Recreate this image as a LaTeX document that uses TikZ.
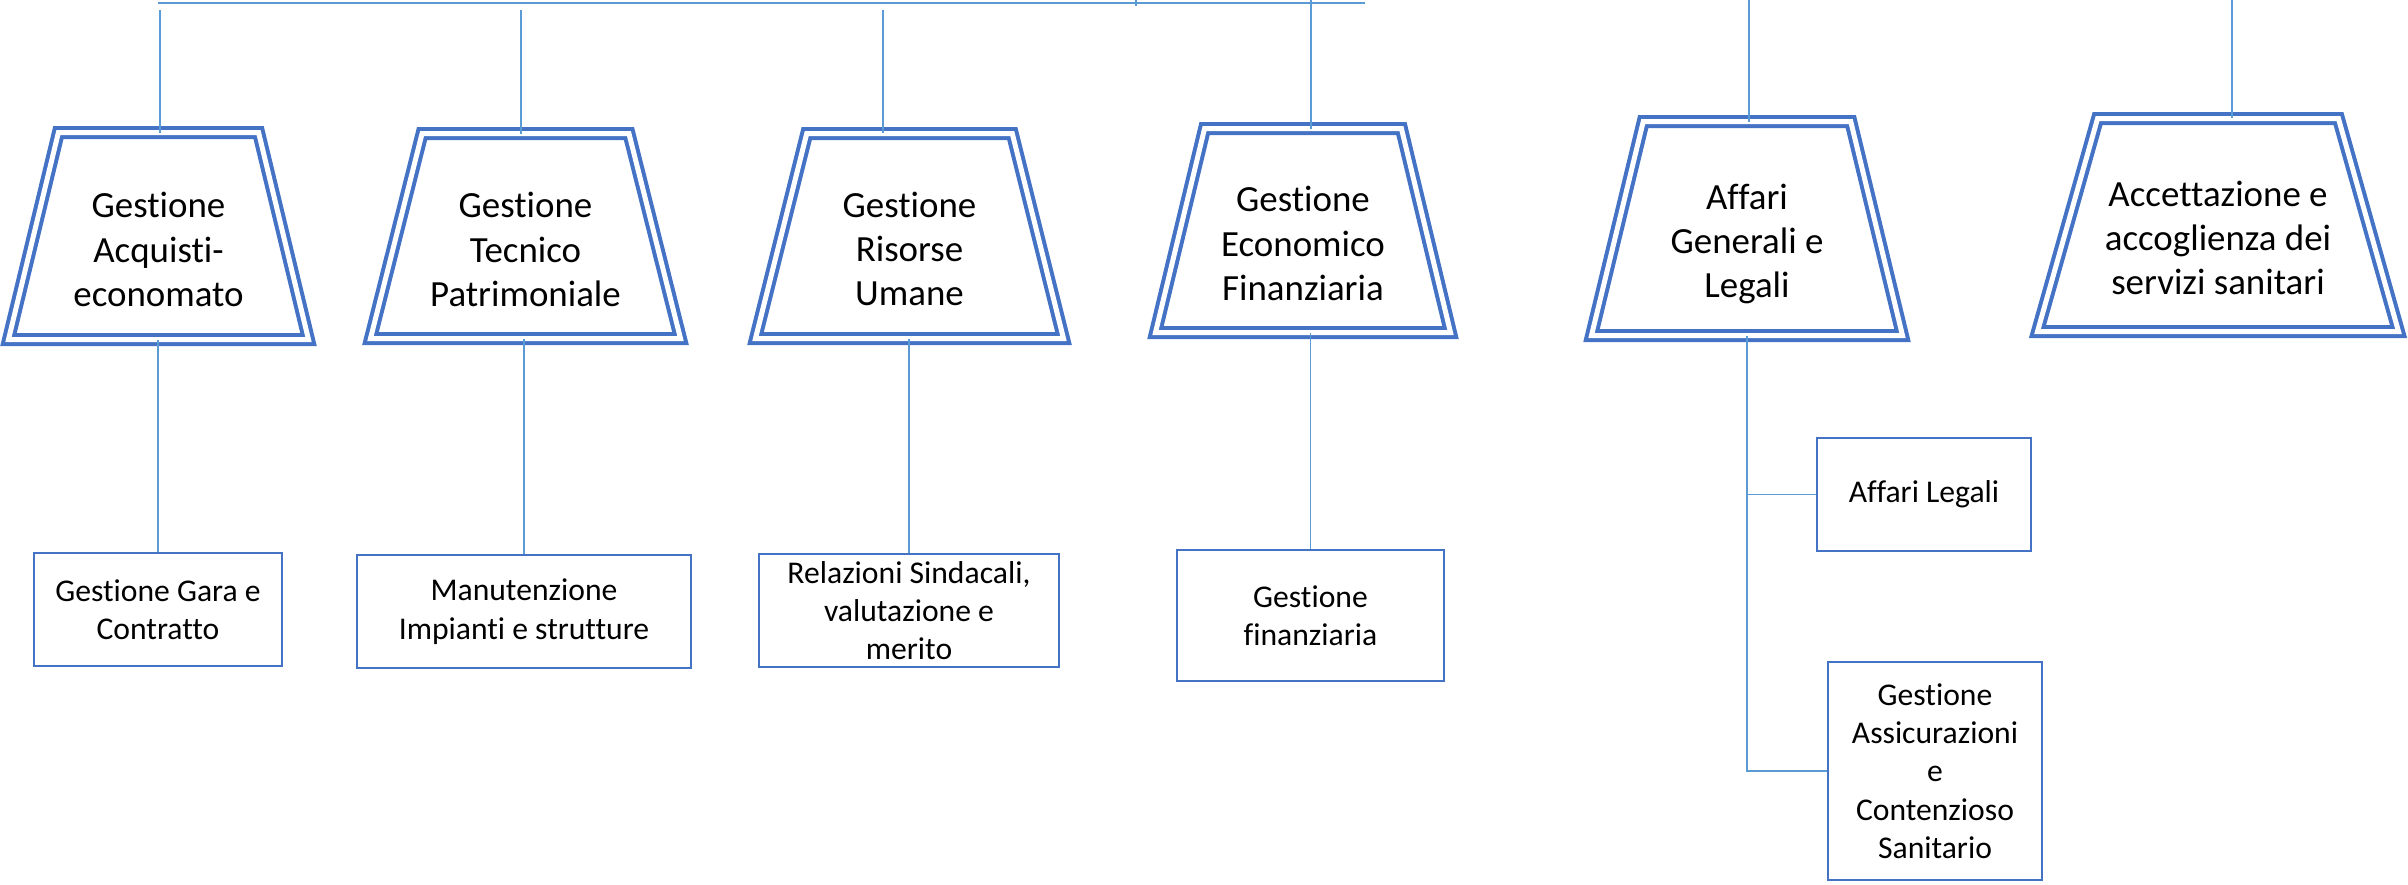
\documentclass[tikz,border=0pt]{standalone}
\usepackage{fontspec}
\setmainfont{Carlito}[Ligatures=NoCommon]
\usetikzlibrary{shapes.geometric}
\definecolor{boxblue}{HTML}{4472C4}
\definecolor{linkblue}{HTML}{5B9BD5}

\begin{document}
\begin{tikzpicture}[x=0.1mm,y=-0.1mm]

        \useasboundingbox (0,0) rectangle (2408,884);

        \begin{scope}[every node/.style={trapezium,trapezium left angle=76,trapezium right angle=76,
            trapezium stretches=true,draw=boxblue,line width=0.4mm,double,double distance=0.5mm,
            inner sep=2pt,outer sep=0pt}]
          \node[minimum width=30mm,  minimum height=20.7mm] (acq) at (158.5,236) {};
          \node[minimum width=31mm,  minimum height=20.5mm] (tec) at (525.5,236) {};
          \node[minimum width=30.8mm,minimum height=20.5mm] (ris) at (909.5,236) {};
          \node[minimum width=29.5mm,minimum height=20.4mm] (eco) at (1303,230.5) {};
          \node[minimum width=31.1mm,minimum height=21.4mm] (aff) at (1747,228.5) {};
          \node[minimum width=36.1mm,minimum height=21.3mm] (acc) at (2218,225) {};
        \end{scope}

        \begin{scope}[every node/.style={align=center,inner sep=0pt,font=\fontsize{10.5}{12.6}\selectfont}]
          \node (acq-t) at ([yshift=-1.35mm]acq.center) {Gestione\\Acquisti-\\economato};
          \node (tec-t) at ([yshift=-1.35mm]tec.center) {Gestione\\Tecnico\\Patrimoniale};
          \node (ris-t) at ([yshift=-1.3mm]ris.center)  {Gestione\\Risorse\\Umane};
          \node (eco-t) at ([yshift=-1.3mm]eco.center)  {Gestione\\Economico\\Finanziaria};
          \node (aff-t) at ([yshift=-1.55mm]aff.center) {Affari\\Generali e\\Legali};
          \node (acc-t) at ([yshift=-1.3mm]acc.center)  {Accettazione e\\accoglienza dei\\servizi sanitari};
        \end{scope}

        \begin{scope}[every node/.style={rectangle,draw=boxblue,line width=0.7pt,align=center,
            inner sep=0pt,font=\fontsize{9}{10.9}\selectfont}]
          \node[minimum width=24.8mm,minimum height=11.3mm] (gara)   at (158,609.5)    {Gestione Gara e\\Contratto};
          \node[minimum width=33.4mm,minimum height=11.3mm] (manut)  at (524,611.5)    {Manutenzione\\Impianti e strutture};
          \node[minimum width=30mm,  minimum height=11.3mm] (sind)   at (909,610.5)    {Relazioni Sindacali,\\valutazione e\\merito};
          \node[minimum width=26.7mm,minimum height=13.1mm] (finz)   at (1310.5,615.5) {Gestione\\finanziaria};
          \node[minimum width=21.4mm,minimum height=11.3mm] (legali) at (1924,494.5)   {Affari Legali};
          \node[minimum width=21.4mm,minimum height=21.8mm] (assic)  at (1935,771)     {Gestione\\Assicurazioni\\e\\Contenzioso\\Sanitario};
        \end{scope}

        \begin{scope}[linkblue,line width=0.45pt]
          \coordinate (bus-w) at (158,3);
          \coordinate (bus-e) at (1365,3);
          \coordinate (tick)  at (1136,0);
          \coordinate (d-acq) at (160,10);
          \coordinate (d-tec) at (521,10);
          \coordinate (d-ris) at (883,10);
          \coordinate (d-eco) at (1311,0);
          \coordinate (d-aff) at (1749,0);
          \coordinate (d-acc) at (2232,0);

          \draw (bus-w) -- (bus-e);
          \draw (tick) -- ++(0,6);

          \path (d-acq) edge (d-acq |- acq.north);
          \path (d-tec) edge (d-tec |- tec.north);
          \path (d-ris) edge (d-ris |- ris.north);
          \path (d-eco) edge (d-eco |- eco.north);
          \path (d-aff) edge (d-aff |- aff.north);
          \path (d-acc) edge (d-acc |- acc.north);

          \path (gara.north |- acq.south)  edge (gara.north);
          \path (manut.north |- tec.south) edge (manut.north);
          \path (sind.north |- ris.south)  edge (sind.north);
          \path (finz.north |- eco.south)  edge (finz.north);
          \draw (aff.south) |- (legali.west);
          \draw (aff.south) |- (assic.west);
        \end{scope}

      \end{tikzpicture}
\end{document}
